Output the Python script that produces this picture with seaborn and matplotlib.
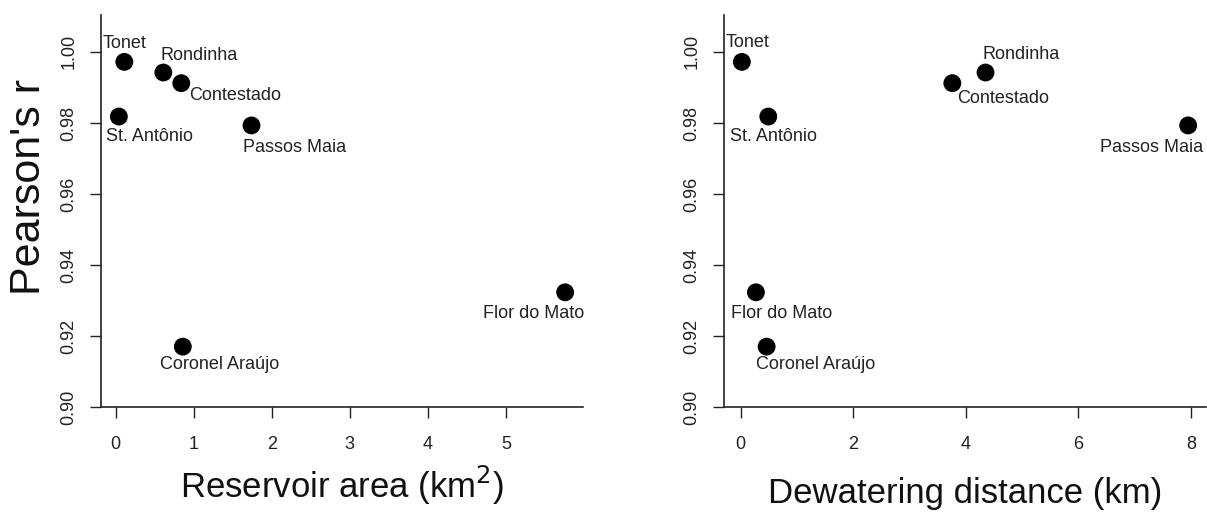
import matplotlib
matplotlib.use("Agg")
import matplotlib.pyplot as plt
import seaborn as sns
import pandas as pd
import numpy as np

# ---------------- data ----------------
reservoirs = ["Tonet", "Rondinha", "Contestado", "St. Antônio",
              "Passos Maia", "Flor do Mato", "Coronel Araújo"]
pearson_r = [0.9972, 0.9942, 0.9912, 0.9818, 0.9793, 0.9323, 0.9170]
reservoir_area = [0.11, 0.61, 0.84, 0.04, 1.74, 5.76, 0.86]
dewatering_distance = [0.02, 4.35, 3.76, 0.49, 7.95, 0.27, 0.46]

y_ticks = [0.90, 0.92, 0.94, 0.96, 0.98, 1.00]
x_ticks_area = [0, 1, 2, 3, 4, 5]
x_ticks_dist = [0, 2, 4, 6, 8]

# label offsets (pixels, dx right, dy down) — layout only
off_area = {"Tonet": (0, -18), "Rondinha": (36, -17), "Contestado": (54, 12),
            "St. Antônio": (31, 20), "Passos Maia": (43, 22),
            "Flor do Mato": (-32, 21), "Coronel Araújo": (37, 18)}
off_dist = {"Tonet": (6, -19), "Rondinha": (36, -18), "Contestado": (51, 15),
            "St. Antônio": (5, 20), "Passos Maia": (-37, 22),
            "Flor do Mato": (26, 21), "Coronel Araújo": (49, 18)}

df = pd.DataFrame({"reservoir": reservoirs, "r": pearson_r,
                   "area": reservoir_area, "dist": dewatering_distance})

sns.set_style("ticks")
plt.rcParams["font.family"] = ["Liberation Sans", "DejaVu Sans"]

W, H = 1207, 513
fig = plt.figure(figsize=(W / 100, H / 100), dpi=100)
ax1 = fig.add_axes([101 / W, (H - 407) / H, 482 / W, 392 / H])
ax2 = fig.add_axes([724 / W, (H - 407) / H, 482 / W, 392 / H])

PX = 0.72  # points per pixel at dpi 100


def draw(ax, xcol, xticks, offsets, xlabel, label_y):
    sns.scatterplot(data=df, x=xcol, y="r", ax=ax, s=165, color="black",
                    edgecolor="none", legend=False, zorder=3)
    xs = df[xcol].to_numpy()
    pad = 0.04 * (xs.max() - xs.min())
    ax.set_xlim(xs.min() - pad, xs.max() + pad)
    ax.set_ylim(0.90, 1.0104)
    ax.set_xticks(xticks)
    ax.set_xticklabels([str(t) for t in xticks])
    ax.set_yticks(y_ticks)
    ax.set_yticklabels([f"{t:.2f}" for t in y_ticks], rotation=90, va="center")
    ax.tick_params(axis="both", direction="out", length=8, width=1.0,
                   colors="#222222", labelsize=13, labelcolor="#222222")
    ax.tick_params(axis="x", pad=13)
    ax.tick_params(axis="y", pad=9)
    for side in ("top", "right"):
        ax.spines[side].set_visible(False)
    for side in ("left", "bottom"):
        ax.spines[side].set_linewidth(1.2)
        ax.spines[side].set_color("#222222")
    for name, xv, yv in zip(df["reservoir"], xs, df["r"]):
        dx, dy = offsets[name]
        ax.annotate(name, (xv, yv), xytext=(dx * PX, -dy * PX),
                    textcoords="offset points", ha="center", va="center",
                    fontsize=13, color="#222222", annotation_clip=False)
    ax.set_xlabel(xlabel, fontsize=25, color="#111111", va="baseline")
    ax.xaxis.set_label_coords(0.5, label_y)
    ax.set_ylabel("")


draw(ax1, "area", x_ticks_area, off_area, "Reservoir area (km$^2$)", -0.232)
draw(ax2, "dist", x_ticks_dist, off_dist, "Dewatering distance (km)", -0.245)

ax1.set_ylabel("Pearson's r", fontsize=31, color="#111111")
ax1.yaxis.set_label_coords(-0.108, 0.56)

fig.savefig("out.png", dpi=100, facecolor="white")
